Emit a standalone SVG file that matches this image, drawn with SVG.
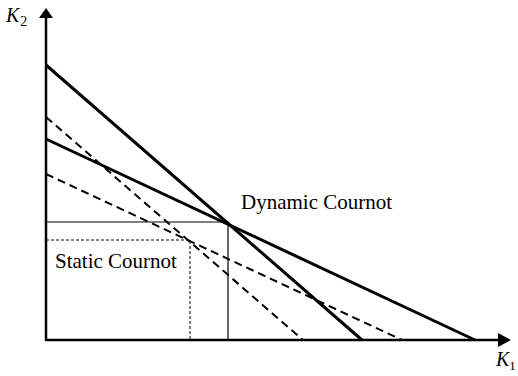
<svg xmlns="http://www.w3.org/2000/svg" width="518" height="376" viewBox="0 0 518 376">
<style>
.axis{stroke:#000;stroke-width:2.5;fill:none}
.curve{stroke:#000;stroke-width:3;fill:none}
.dash{stroke:#000;stroke-width:2;stroke-dasharray:8,5;fill:none}
.thin{stroke:#000;stroke-width:1.2;fill:none}
.dot{stroke:#000;stroke-width:1;stroke-dasharray:3,2;fill:none}
text{font-family:"Liberation Serif","Times New Roman",serif;fill:#000}
.lbl{font-size:21px}
.ax{font-size:20px;font-style:italic}
</style>
<rect width="518" height="376" fill="#fff"/>
<g id="connectors">
<line class="axis" x1="46" y1="341" x2="46" y2="16"/>
<line class="axis" x1="45" y1="340" x2="499" y2="340"/>
<polygon points="46,8 39,18 53,18" fill="#000"/>
<polygon points="511,340 498,333 498,347" fill="#000"/>
<line class="curve" x1="46" y1="65" x2="362" y2="340"/>
<line class="curve" x1="46" y1="139" x2="475" y2="340"/>
<line class="dash" x1="46" y1="117" x2="303" y2="340"/>
<line class="dash" x1="46" y1="174" x2="402" y2="340"/>
<polyline class="thin" points="46,222 228,222 228,340"/>
<polyline class="dot" points="46,240 190,240 190,340"/>
</g>
<g id="dynamic"><text class="lbl" x="241" y="209">Dynamic Cournot</text></g>
<g id="static"><text class="lbl" x="55" y="268">Static Cournot</text></g>
<g id="k2"><text class="ax" x="6" y="22">K<tspan font-size="14" font-style="normal" dx="1" dy="4">2</tspan></text></g>
<g id="k1"><text class="ax" x="496" y="366">K<tspan font-size="13" font-style="normal" dx="0" dy="4">1</tspan></text></g>
</svg>
